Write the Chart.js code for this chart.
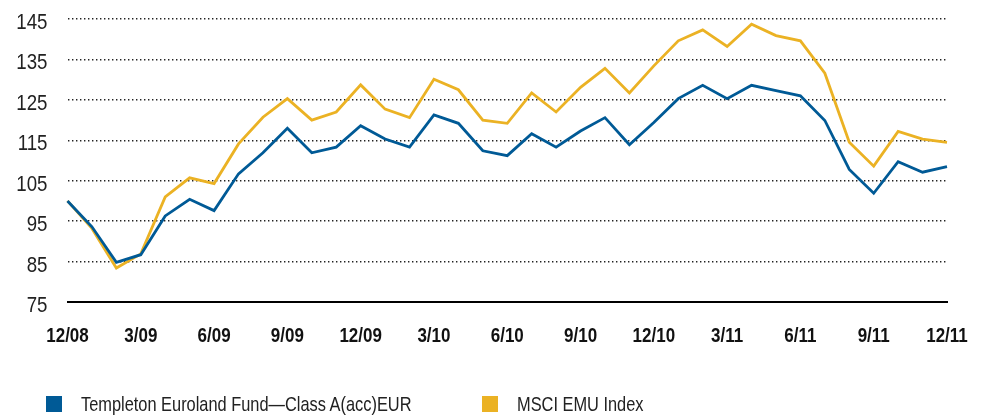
<!DOCTYPE html>
<html>
<head>
<meta charset="utf-8">
<script src="https://cdn.jsdelivr.net/npm/chart.js@4.4.1/dist/chart.umd.min.js"></script>
<style>
  html, body { margin: 0; padding: 0; background: #fff; }
  #wrap { position: relative; width: 983px; height: 416px; }
  .key { position: absolute; top: 396px; height: 16px; display: flex; align-items: center;
         font: 21px "Liberation Sans", Arial, sans-serif; color: #222; white-space: nowrap; }
  .key i { display: inline-block; width: 16px; height: 16px; margin-right: 19px; }
  .key span { display: inline-block; transform: scaleX(0.78); transform-origin: left center; }
</style>
</head>
<body>
<div id="wrap">
  <canvas id="chart" width="983" height="416"></canvas>
  <div class="key" style="left:46px"><i style="background:#005a96"></i><span>Templeton Euroland Fund—Class A(acc)EUR</span></div>
  <div class="key" style="left:482px"><i style="background:#ebb224"></i><span>MSCI EMU Index</span></div>
</div>
<script>
const months = [
  '12/08', '1/09', '2/09', '3/09', '4/09', '5/09', '6/09', '7/09', '8/09', '9/09', '10/09', '11/09',
  '12/09', '1/10', '2/10', '3/10', '4/10', '5/10', '6/10', '7/10', '8/10', '9/10', '10/10', '11/10',
  '12/10', '1/11', '2/11', '3/11', '4/11', '5/11', '6/11', '7/11', '8/11', '9/11', '10/11', '11/11',
  '12/11'
];
const fund = [
  100, 93.6, 84.8, 86.7, 96.3, 100.4, 97.6, 106.7, 111.9, 118, 111.9, 113.3,
  118.6, 115.3, 113.3, 121.3, 119.2, 112.4, 111.2, 116.6, 113.3, 117.3, 120.6, 113.9,
  119.4, 125.3, 128.6, 125.3, 128.6, 127.3, 126, 119.9, 107.8, 101.9, 109.7, 107.1,
  108.5
];
const msciEmu = [
  100, 93.2, 83.4, 86.9, 101, 105.7, 104.3, 114.1, 120.7, 125.3, 120, 122,
  128.7, 122.7, 120.6, 130.1, 127.5, 120, 119.2, 126.7, 122, 128.1, 132.8, 126.7,
  133.4, 139.6, 142.3, 138.2, 143.7, 140.9, 139.6, 131.6, 114.5, 108.6, 117.2, 115.3,
  114.5
];
const yTicks = [75, 85, 95, 105, 115, 125, 135, 145];

const FONT = '"Liberation Sans", Arial, sans-serif';

// no condensed font installed: squeeze all canvas text horizontally instead
const canvas = document.getElementById('chart');
const c2d = canvas.getContext('2d');
const fill = c2d.fillText.bind(c2d);
c2d.fillText = (text, x, y, maxWidth) => {
  let w = c2d.measureText(text).width * 0.85;
  if (maxWidth !== undefined && maxWidth < w) w = maxWidth;
  fill(text, x, y, w);
};

new Chart(canvas, {
  type: 'line',
  data: {
    labels: months,
    datasets: [
      { label: 'Templeton Euroland Fund—Class A(acc)EUR', data: fund,
        borderColor: '#005a96', borderWidth: 2.8, pointRadius: 0, tension: 0 },
      { label: 'MSCI EMU Index', data: msciEmu,
        borderColor: '#ebb224', borderWidth: 2.8, pointRadius: 0, tension: 0 },
    ],
  },
  options: {
    responsive: false,
    animation: false,
    layout: { padding: { top: 19, right: 36, bottom: 0, left: 0 } },
    plugins: { legend: { display: false }, tooltip: { enabled: false } },
    scales: {
      x: {
        afterFit(scale) { scale.height = 114; scale.paddingLeft = 0; scale.paddingRight = 0; },
        grid: { display: false },
        border: { display: true, color: '#000', width: 2 },
        ticks: {
          autoSkip: false, maxRotation: 0, padding: 14, color: '#111',
          font: { family: FONT, size: 20, weight: 'bold' },
          callback(v, i) { return i % 3 === 0 ? months[i] : ''; },
        },
      },
      y: {
        min: yTicks[0], max: yTicks[yTicks.length - 1],
        afterFit(scale) { scale.width = 67.5; scale.paddingTop = 0; scale.paddingBottom = 0; },
        afterBuildTicks(scale) { scale.ticks = yTicks.map(v => ({ value: v })); },
        grid: {
          drawTicks: false, lineWidth: 1.4,
          color: ctx => (ctx.tick && ctx.tick.value === yTicks[0]) ? 'rgba(0,0,0,0)' : '#222',
        },
        border: { display: false, dash: [1.4, 2.6] },
        ticks: {
          padding: 20, labelOffset: 4, color: '#222',
          font: { family: FONT, size: 22 },
        },
      },
    },
  },
});
</script>
</body>
</html>
